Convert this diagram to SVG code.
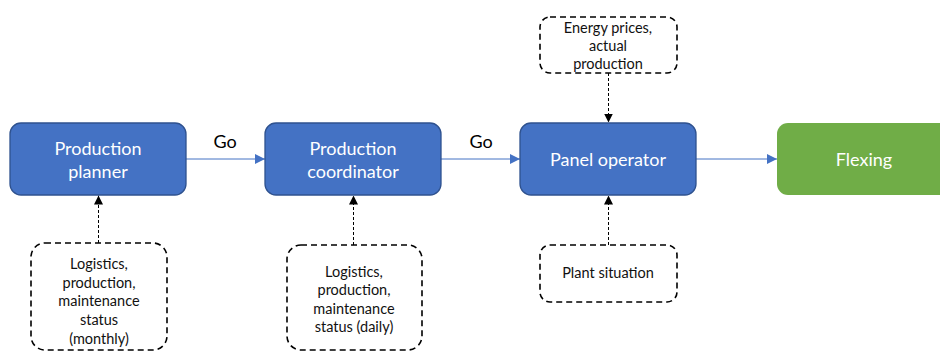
<svg xmlns="http://www.w3.org/2000/svg" width="940" height="352" viewBox="0 0 940 352">
<defs>
<style>
.blue{fill:#4472C4;stroke:#2F528F;stroke-width:1.3}
.green{fill:#70AD47}
.dash{fill:#fff;stroke:#000;stroke-width:1.6;stroke-dasharray:6,4}
.wt{font-family:Lato,"Open Sans","Liberation Sans",sans-serif;font-size:18px;fill:#fff;text-anchor:middle}
.bt{font-family:Lato,"Open Sans","Liberation Sans",sans-serif;font-size:14.5px;fill:#111;text-anchor:middle}
.lbl{font-family:Lato,"Open Sans","Liberation Sans",sans-serif;font-size:18px;fill:#000;text-anchor:middle}
.solid{stroke:#4472C4;stroke-width:1;fill:none}
.dot{stroke:#000;stroke-width:1;stroke-dasharray:3,2;fill:none}
</style>
<marker id="ab" markerWidth="10" markerHeight="10" refX="10" refY="5" orient="auto" markerUnits="userSpaceOnUse" viewBox="0 0 10 10"><path d="M0,0 L10,5 L0,10 z" fill="#4472C4"/></marker>
<marker id="ak" markerWidth="9" markerHeight="9" refX="9" refY="4.5" orient="auto" markerUnits="userSpaceOnUse" viewBox="0 0 9 9"><path d="M0,0 L9,4.5 L0,9 z" fill="#000"/></marker>
</defs>
<g id="connectors">
<line class="solid" x1="186" y1="159" x2="265" y2="159" marker-end="url(#ab)"/>
<line class="solid" x1="441" y1="159" x2="520" y2="159" marker-end="url(#ab)"/>
<line class="solid" x1="696" y1="159" x2="777" y2="159" marker-end="url(#ab)"/>
<line class="dot" x1="98.5" y1="243" x2="98.5" y2="195.5" marker-end="url(#ak)"/>
<line class="dot" x1="353.5" y1="245" x2="353.5" y2="195.5" marker-end="url(#ak)"/>
<line class="dot" x1="608.5" y1="73" x2="608.5" y2="122.5" marker-end="url(#ak)"/>
<line class="dot" x1="608.5" y1="245" x2="608.5" y2="195.5" marker-end="url(#ak)"/>
<text class="lbl" x="225" y="148">Go</text>
<text class="lbl" x="481" y="148">Go</text>
</g>
<g id="planner">
<rect class="blue" x="10" y="123" width="176" height="72" rx="11"/>
<text class="wt" x="98" y="155">Production</text>
<text class="wt" x="98" y="178">planner</text>
</g>
<g id="coordinator">
<rect class="blue" x="265" y="123" width="176" height="72" rx="11"/>
<text class="wt" x="353" y="155">Production</text>
<text class="wt" x="353" y="178">coordinator</text>
</g>
<g id="operator">
<rect class="blue" x="520" y="123" width="176" height="72" rx="11"/>
<text class="wt" x="608" y="166">Panel operator</text>
</g>
<g id="flexing">
<rect class="green" x="777" y="123" width="180" height="72" rx="11"/>
<text class="wt" x="864" y="166">Flexing</text>
</g>
<g id="monthly">
<rect class="dash" x="31" y="243" width="136" height="107" rx="14"/>
<text class="bt" x="99" y="269">Logistics,</text>
<text class="bt" x="99" y="288">production,</text>
<text class="bt" x="99" y="306">maintenance</text>
<text class="bt" x="99" y="325">status</text>
<text class="bt" x="99" y="344">(monthly)</text>
</g>
<g id="daily">
<rect class="dash" x="287" y="245" width="135" height="105" rx="14"/>
<text class="bt" x="354" y="277">Logistics,</text>
<text class="bt" x="354" y="295">production,</text>
<text class="bt" x="354" y="314">maintenance</text>
<text class="bt" x="354" y="332">status (daily)</text>
</g>
<g id="energy">
<rect class="dash" x="540" y="17" width="137" height="56" rx="10"/>
<text class="bt" x="608" y="33">Energy prices,</text>
<text class="bt" x="608" y="51">actual</text>
<text class="bt" x="608" y="69">production</text>
</g>
<g id="plant">
<rect class="dash" x="540" y="245" width="137" height="57" rx="10"/>
<text class="bt" x="608" y="278">Plant situation</text>
</g>
</svg>
